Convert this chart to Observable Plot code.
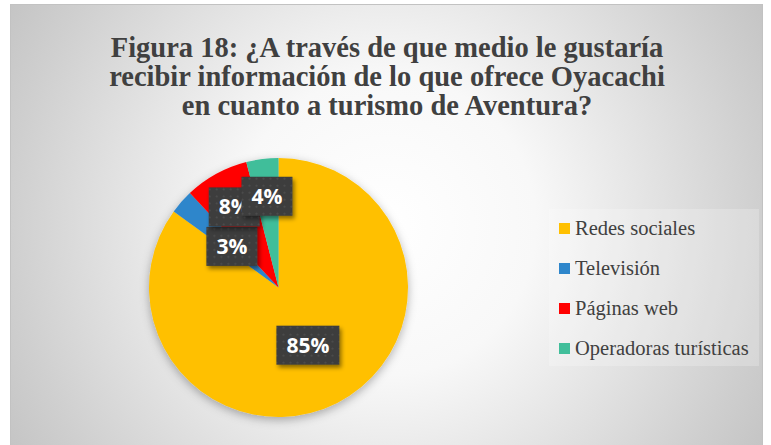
<!DOCTYPE html>
<html><head><meta charset="utf-8">
<script src="https://cdn.jsdelivr.net/npm/d3@7"></script>
<script src="https://cdn.jsdelivr.net/npm/@observablehq/plot@0.6"></script>
<style>
html,body{margin:0;padding:0;background:#fff;}
#wrap{position:relative;width:771px;height:445px;overflow:hidden;}
#chart{position:absolute;left:0;top:0;}
#title{position:absolute;left:11px;top:33px;width:752px;text-align:center;
  font-family:"Liberation Serif","Times New Roman",serif;font-weight:bold;font-size:28.5px;line-height:29px;color:#404040;}
#legend{position:absolute;left:559px;top:0;width:205px;height:445px;
  font-family:"Liberation Serif","Times New Roman",serif;font-size:20.5px;color:#404040;}
.item{position:absolute;left:0;height:29px;display:flex;align-items:center;white-space:nowrap;}
.sw{width:11px;height:11px;margin-right:5px;flex:none;}
</style>
</head><body>
<div id="wrap"><div id="chart"></div><div id="title"></div><div id="legend"></div></div>
<script>
const categories = ["Redes sociales", "Televisión", "Páginas web", "Operadoras turísticas"];
const values = [85, 3, 8, 4];
const labels = ["85%", "3%", "8%", "4%"];
const colors = ["#FFC000", "#2E86CB", "#FF0000", "#41BE9A"];
const titleLines = [
  "Figura 18: ¿A través de que medio le gustaría",
  "recibir información de lo que ofrece Oyacachi",
  "en cuanto a turismo de Aventura?"
];

const data = categories.map((c, i) => ({category: c, value: values[i], label: labels[i]}));
const colorScale = Plot.scale({color: {domain: categories, range: colors}});

// layout
const cx = 278.5, cy = 287.5, R = 129.5;
const labelR = [0.5, 0.48, 0.71, 0.71];
const legendY = d3.scalePoint().domain(categories).range([228, 348]);

function pieMark(index, scales) {
  const g = d3.create("svg:g");
  const defs = g.append("defs");
  const f = defs.append("filter").attr("id", "pieShadow")
    .attr("x", "-20%").attr("y", "-20%").attr("width", "140%").attr("height", "140%");
  f.append("feDropShadow").attr("dx", 0).attr("dy", 3).attr("stdDeviation", 5)
    .attr("flood-color", "#000").attr("flood-opacity", 0.3);
  const f2 = defs.append("filter").attr("id", "boxShadow")
    .attr("x", "-30%").attr("y", "-30%").attr("width", "160%").attr("height", "160%");
  f2.append("feDropShadow").attr("dx", 2).attr("dy", 3).attr("stdDeviation", 2)
    .attr("flood-color", "#000").attr("flood-opacity", 0.45);
  const pat = defs.append("pattern").attr("id", "dots")
    .attr("width", 7).attr("height", 7).attr("patternUnits", "userSpaceOnUse");
  pat.append("rect").attr("width", 7).attr("height", 7).attr("fill", "#3c3c3c");
  pat.append("circle").attr("cx", 3.5).attr("cy", 3.5).attr("r", 1.1).attr("fill", "#4f4f4f");

  g.append("rect").attr("x", 10.5).attr("y", 4.5).attr("width", 752).attr("height", 460)
    .attr("fill", "none").attr("stroke", "#c2c2c2");
  g.append("rect").attr("x", 549).attr("y", 209).attr("width", 210).attr("height", 157)
    .attr("fill", "#ffffff").attr("fill-opacity", 0.22);

  const color = (c) => colorScale.apply(c);
  const arcs = d3.pie().sort(null).value(d => d.value)(data);
  const arc = d3.arc().innerRadius(0).outerRadius(R);
  const pie = g.append("g").attr("transform", `translate(${cx},${cy})`).attr("filter", "url(#pieShadow)");
  pie.selectAll("path").data(arcs).join("path")
    .attr("d", arc).attr("fill", d => color(d.data.category));

  const lab = g.append("g").attr("transform", `translate(${cx},${cy})`);
  arcs.forEach((a, i) => {
    const m = (a.startAngle + a.endAngle) / 2;
    const r = R * labelR[i];
    const x = r * Math.sin(m), y = -r * Math.cos(m);
    const t = a.data.label;
    const w = 12 * t.length + 27, h = 39;
    const lg = lab.append("g").attr("transform", `translate(${x},${y})`);
    lg.append("rect").attr("x", -w / 2).attr("y", -h / 2).attr("width", w).attr("height", h)
      .attr("fill", "url(#dots)").attr("filter", "url(#boxShadow)");
    lg.append("text").attr("text-anchor", "middle").attr("dy", "0.36em")
      .attr("fill", "#ffffff").attr("font-family", "Open Sans")
      .attr("font-weight", "bold").attr("font-size", 21).text(t);
  });
  return g.node();
}

const plot = Plot.plot({
  width: 771,
  height: 445,
  margin: 0,
  style: {
    background: "radial-gradient(circle at 376px 221px,#ffffff 0px,#f8f8f8 150px,#e6e6e6 250px,#cfcfcf 376px,#c4c4c4 440px) 10px 4px / 752px 445px no-repeat, #ffffff",
    overflow: "visible"
  },
  x: {axis: null},
  y: {axis: null},
  marks: [pieMark]
});
document.getElementById("chart").appendChild(plot);

// title (HTML text above the SVG)
const title = d3.select("#title");
titleLines.forEach(t => title.append("div").text(t));

// legend from the same colour scale
const legend = d3.select("#legend");
categories.forEach(c => {
  const it = legend.append("div").attr("class", "item").style("top", (legendY(c) - 14.5) + "px");
  it.append("span").attr("class", "sw").style("background", colorScale.apply(c));
  it.append("span").text(c);
});
</script>
</body></html>
